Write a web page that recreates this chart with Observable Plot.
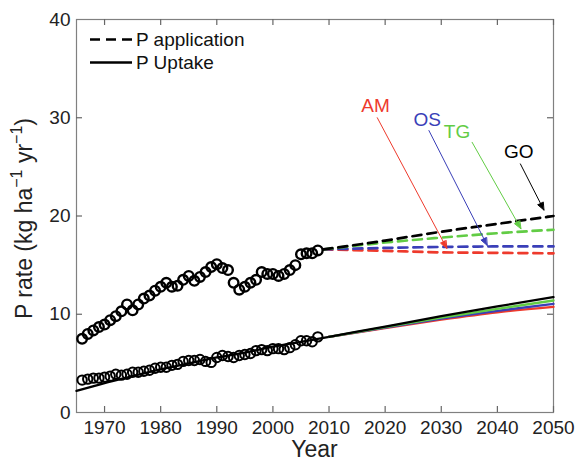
<!DOCTYPE html>
<html><head><meta charset="utf-8">
<script src="https://cdn.jsdelivr.net/npm/d3@7"></script>
<script src="https://cdn.jsdelivr.net/npm/@observablehq/plot@0.6"></script>
<style>
body{margin:0;background:#fff;font-family:"Liberation Sans",Arial,sans-serif}
#chart svg{overflow:visible}
</style>
</head><body><div id="chart"></div>
<script>
// ---- observed data (1966-2008) ----
const obsYears = [1966,1967,1968,1969,1970,1971,1972,1973,1974,1975,1976,1977,1978,1979,1980,1981,1982,1983,1984,1985,1986,1987,1988,1989,1990,1991,1992,1993,1994,1995,1996,1997,1998,1999,2000,2001,2002,2003,2004,2005,2006,2007,2008];
const applicationObs = [7.5,8.0,8.35,8.7,8.95,9.4,9.8,10.3,11.0,10.4,11.0,11.6,11.9,12.4,12.8,13.2,12.8,12.9,13.5,13.9,13.4,13.8,14.3,14.8,15.1,14.7,14.5,13.2,12.5,12.8,13.2,13.5,14.3,14.1,14.1,13.9,14.1,14.5,15.0,16.1,16.2,16.2,16.5];
const uptakeObs = [3.3,3.4,3.5,3.5,3.6,3.7,3.9,3.8,3.9,4.1,4.1,4.2,4.3,4.5,4.6,4.6,4.8,4.9,5.2,5.3,5.3,5.4,5.2,5.1,5.6,5.8,5.7,5.6,5.8,5.9,6.0,6.3,6.4,6.3,6.5,6.5,6.4,6.6,6.9,7.3,7.3,7.2,7.7];

// ---- fitted uptake (historical) ----
const fitYears = [1965,1970,1975,1980,1985,1990,1995,2000,2005,2010];
const uptakeFit = [2.2,3.0,3.7,4.4,5.0,5.6,6.1,6.7,7.2,7.7];

// ---- scenarios ----
const scenarios = ["AM","OS","TG","GO"];
const scenarioColors = ["#ee3a2c","#3a3fb8","#62cc45","#000000"];
const appYears = [2009,2020,2030,2040,2050];
const appAM = [16.6,16.45,16.3,16.25,16.2];
const appOS = [16.6,16.75,16.85,16.9,16.9];
const appTG = [16.6,17.3,17.8,18.25,18.6];
const appGO = [16.6,17.5,18.4,19.2,20.0];
const upYears = [2010,2020,2030,2040,2050];
const upAM = [7.7,8.6,9.45,10.2,10.75];
const upOS = [7.7,8.65,9.55,10.35,11.05];
const upTG = [7.7,8.7,9.65,10.55,11.4];
const upGO = [7.7,8.75,9.8,10.8,11.75];

// ---- annotation anchors (data units) ----
const labelX = [2018.3,2027.5,2032.8,2043.8];
const labelY = [31.2,29.8,28.6,26.5];
const arrowX1 = [2018.6,2027.8,2035.5,2044.1];
const arrowY1 = [30.0,28.7,27.5,25.3];
const arrowX2 = [2031.0,2038.2,2044.2,2048.3];
const arrowY2 = [16.7,17.0,18.7,20.6];

// ---- axis ticks ----
const xTicks = [1970,1980,1990,2000,2010,2020,2030,2040,2050];
const yTicks = [0,10,20,30,40];

// ---- build tables ----
const obsApp = obsYears.map((y,i)=>({year:y, v:applicationObs[i]}));
const obsUp = obsYears.map((y,i)=>({year:y, v:uptakeObs[i]}));
const fit = fitYears.map((y,i)=>({year:y, v:uptakeFit[i]}));
const appSeries = {AM:appAM, OS:appOS, TG:appTG, GO:appGO};
const upSeries = {AM:upAM, OS:upOS, TG:upTG, GO:upGO};
const appLong = scenarios.flatMap(s => appYears.map((y,i)=>({s, year:y, v:appSeries[s][i]})));
const upLong = scenarios.flatMap(s => upYears.map((y,i)=>({s, year:y, v:upSeries[s][i]})));
const ann = scenarios.map((s,i)=>({s, lx:labelX[i], ly:labelY[i], x1:arrowX1[i], y1:arrowY1[i], x2:arrowX2[i], y2:arrowY2[i]}));
const color = Object.fromEntries(scenarios.map((s,i)=>[s, scenarioColors[i]]));

const W = 577, H = 462, mL = 76, mR = 24, mT = 19, mB = 50;
const PW = W - mL - mR, PH = H - mT - mB, TICK = 6;
const axisGray = "#808080";

const plot = Plot.plot({
  width: W, height: H,
  marginLeft: mL, marginRight: mR, marginTop: mT, marginBottom: mB,
  x: {domain: [1965, 2050]},
  y: {domain: [0, 40]},
  style: {fontFamily: "Liberation Sans, Arial, sans-serif", fontSize: "19px", color: "#222", background: "#fff"},
  marks: [
    Plot.frame({stroke: axisGray, strokeWidth: 1.2}),
    // inward ticks on all four sides
    Plot.ruleX(xTicks, {x: d => d, stroke: "#666", strokeWidth: 1.2, insetTop: PH - TICK}),
    Plot.ruleX(xTicks, {x: d => d, stroke: "#666", strokeWidth: 1.2, insetBottom: PH - TICK}),
    Plot.ruleY(yTicks.slice(1, -1), {y: d => d, stroke: "#666", strokeWidth: 1.2, insetRight: PW - TICK}),
    Plot.ruleY(yTicks.slice(1, -1), {y: d => d, stroke: "#666", strokeWidth: 1.2, insetLeft: PW - TICK}),
    // tick labels
    Plot.axisX({anchor: "bottom", ticks: xTicks, tickSize: 0, tickPadding: 8, tickFormat: d => String(d), label: null, fontSize: 19, fill: "#222"}),
    Plot.axisY({anchor: "left", ticks: yTicks, tickSize: 0, tickPadding: 6, label: null, fontSize: 19, fill: "#222"}),
    // uptake lines
    Plot.line(fit, {x: "year", y: "v", stroke: "#000", strokeWidth: 2.3, curve: "monotone-x"}),
    Plot.line(upLong, {x: "year", y: "v", z: "s", stroke: d => color[d.s], strokeWidth: 2.3, curve: "monotone-x"}),
    // application projections
    Plot.line(appLong, {x: "year", y: "v", z: "s", stroke: d => color[d.s], strokeWidth: 2.7, strokeDasharray: "9,6", curve: "monotone-x"}),
    // observed points
    Plot.dot(obsApp, {x: "year", y: "v", r: 4.8, stroke: "#000", strokeWidth: 2.4, fill: "none"}),
    Plot.dot(obsUp, {x: "year", y: "v", r: 4.7, stroke: "#000", strokeWidth: 2, fill: "none"}),
    // annotations
    Plot.arrow(ann, {x1: "x1", y1: "y1", x2: "x2", y2: "y2", stroke: d => color[d.s], strokeWidth: 1, headLength: 12, headAngle: 45}),
    Plot.text(ann, {x: "lx", y: "ly", text: "s", fill: d => color[d.s], fontSize: 19})
  ]
});

const svg = d3.select(plot);
// fill the arrow heads (turn the open chevrons into solid triangles)
svg.selectAll('g[aria-label="arrow"] path').each(function() {
  const p = d3.select(this);
  const nums = (p.attr("d").match(/-?\d*\.?\d+(e-?\d+)?/g) || []).map(Number);
  if (nums.length >= 6) {
    const n = nums.slice(-6);
    svg.append("path")
      .attr("d", `M${n[0]},${n[1]}L${n[2]},${n[3]}L${n[4]},${n[5]}Z`)
      .attr("fill", p.attr("stroke") || this.parentNode.getAttribute("stroke"))
      .attr("stroke", "none");
  }
});
// axis titles
svg.append("text").attr("x", (mL + W - mR)/2).attr("y", 457).attr("text-anchor","middle")
  .attr("font-size", 23).attr("fill","#222").text("Year");
const yl = svg.append("text").attr("transform", `translate(32,${(mT + H - mB)/2 + 3}) rotate(-90)`)
  .attr("text-anchor","middle").attr("font-size", 23).attr("fill","#222");
yl.append("tspan").text("P rate (kg ha");
yl.append("tspan").attr("dy", -10).attr("font-size", 16).text("−1");
yl.append("tspan").attr("dy", 10).text(" yr");
yl.append("tspan").attr("dy", -10).attr("font-size", 16).text("−1");
yl.append("tspan").attr("dy", 10).text(")");
// legend
const lg = svg.append("g").attr("text-anchor","start");
lg.append("line").attr("x1",90).attr("x2",132).attr("y1",39.5).attr("y2",39.5)
  .attr("stroke","#000").attr("stroke-width",2.7).attr("stroke-dasharray","10,6");
lg.append("text").attr("x",136).attr("y",39.5).attr("dy","0.35em").attr("text-anchor","start").attr("font-size",19).attr("fill","#111").text("P application");
lg.append("line").attr("x1",90).attr("x2",132).attr("y1",62.5).attr("y2",62.5)
  .attr("stroke","#000").attr("stroke-width",2.7);
lg.append("text").attr("x",136).attr("y",62.5).attr("dy","0.35em").attr("text-anchor","start").attr("font-size",19).attr("fill","#111").text("P Uptake");

document.getElementById("chart").appendChild(plot);
</script>
</body></html>
